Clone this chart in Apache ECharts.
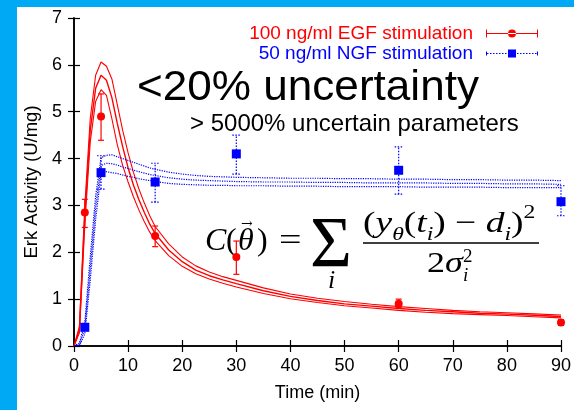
<!DOCTYPE html>
<html><head><meta charset="utf-8">
<script src="https://cdn.jsdelivr.net/npm/echarts@6/dist/echarts.min.js"></script>
<style>html,body{margin:0;padding:0;background:#fff}#c{width:574px;height:410px}</style>
</head><body><div id="c"></div>
<script>
// model time grid (min)
const tModel = [0,1,2,3,4,5,6,7,8,9,10,11,12,13,14,15,17.5,20,22.5,25,27.5,30,35,40,45,50,55,60,65,70,75,80,85,90];
// EGF model fit: central curve and uncertainty band
const egfMid = [0,0.35,2.8,4.6,5.5,5.78,5.67,5.3,4.75,4.25,3.8,3.43,3.12,2.85,2.6,2.4,2.05,1.8,1.62,1.5,1.41,1.33,1.18,1.06,0.97,0.9,0.85,0.8,0.76,0.73,0.7,0.68,0.655,0.63];
const egfUp  = [0,0.42,3.0,4.85,5.78,6.06,5.97,5.7,5.15,4.6,4.12,3.7,3.35,3.05,2.78,2.55,2.18,1.9,1.71,1.58,1.48,1.4,1.24,1.11,1.02,0.95,0.89,0.84,0.8,0.76,0.73,0.71,0.685,0.66];
const egfLo  = [0,0.28,2.6,4.35,5.22,5.47,5.35,4.85,4.3,3.85,3.5,3.18,2.9,2.65,2.43,2.25,1.93,1.7,1.54,1.43,1.34,1.26,1.12,1.01,0.93,0.86,0.81,0.76,0.72,0.69,0.67,0.65,0.625,0.6];
// NGF model fit: central curve and uncertainty band
const ngfMid = [0,0.03,0.38,1.65,2.95,3.85,3.9,3.89,3.86,3.82,3.79,3.75,3.72,3.69,3.66,3.64,3.59,3.56,3.54,3.53,3.52,3.51,3.5,3.5,3.49,3.49,3.48,3.48,3.48,3.47,3.47,3.46,3.46,3.45];
const ngfUp  = [0,0.06,0.5,1.9,3.2,4.02,4.07,4.08,4.04,4.0,3.96,3.92,3.88,3.84,3.8,3.77,3.71,3.67,3.64,3.62,3.61,3.6,3.59,3.58,3.58,3.57,3.57,3.56,3.56,3.55,3.55,3.54,3.54,3.53];
const ngfLo  = [0,0.0,0.26,1.4,2.7,3.68,3.72,3.7,3.68,3.65,3.62,3.6,3.57,3.55,3.53,3.51,3.47,3.45,3.44,3.43,3.43,3.42,3.42,3.41,3.41,3.4,3.4,3.4,3.39,3.39,3.39,3.38,3.38,3.38];
// measurements
const tData   = [2,5,15,30,60,90];
const egfVal  = [2.85,4.9,2.35,1.9,0.9,0.5];
const egfLow  = [2.53,4.39,2.12,1.53,0.82,0.44];
const egfHigh = [3.13,5.38,2.56,2.24,1.0,0.56];
const ngfVal  = [0.4,3.7,3.5,4.1,3.75,3.08];
const ngfLow  = [0.32,3.35,3.07,3.67,3.24,2.78];
const ngfHigh = [0.48,4.06,3.9,4.5,4.25,3.42];
const xTicks = {min:0, max:90, interval:10};
const yTicks = {min:0, max:7, interval:1};

const RED = '#ff0000', BLUE = '#0000ff';
const FONT = 'Liberation Sans';
const pair = (xs, ys) => xs.map((x, i) => [x, ys[i]]);
const triple = (xs, a, b) => xs.map((x, i) => [x, a[i], b[i]]);

function errRender(color, dashed, w) {
  return function (params, api) {
    const x = api.value(0);
    const p1 = api.coord([x, api.value(1)]);
    const p2 = api.coord([x, api.value(2)]);
    const style = {stroke: color, lineWidth: 1.2, lineDash: dashed ? [1.5, 1.5] : null, fill: null};
    return {type: 'group', children: [
      {type: 'line', shape: {x1: p1[0], y1: p1[1], x2: p2[0], y2: p2[1]}, style},
      {type: 'line', shape: {x1: p1[0]-w, y1: p1[1], x2: p1[0]+w, y2: p1[1]}, style},
      {type: 'line', shape: {x1: p2[0]-w, y1: p2[1], x2: p2[0]+w, y2: p2[1]}, style}
    ]};
  };
}
function modelLine(name, data, color, dotted, w) {
  return {type: 'line', name, data, symbol: 'none', silent: true, z: 2,
    lineStyle: {color, width: w, type: dotted ? 'dotted' : 'solid'}};
}

const egfIcon = 'path://M0,1h1v8h-1z M1,4.5h50v1h-50z M51,1h1v8h-1z M22,5a4,4 0 1,0 8,0a4,4 0 1,0 -8,0z';
let dots = '';
for (let x = 1; x < 51; x += 3) { if (x < 21 || x > 30) dots += 'M' + x + ',4.5h1.5v1h-1.5z '; }
const ngfIcon = 'path://M0,3h1v4h-1z ' + dots + 'M22,1h8v8h-8z M51,3h1v4h-1z';

const axisCommon = {
  axisLine: {show: true, lineStyle: {color: '#000', width: 1.6}},
  axisTick: {show: true, inside: true, length: 6, lineStyle: {color: '#000', width: 1.2}},
  splitLine: {show: false}
};

const serif = 'Liberation Serif';
const option = {
  animation: false,
  backgroundColor: '#fff',
  grid: {left: 74, right: 13, top: 18, bottom: 64},
  xAxis: [
    Object.assign({type: 'value', position: 'bottom', ...xTicks, name: 'Time (min)', nameLocation: 'middle', nameGap: 38,
      nameTextStyle: {fontFamily: FONT, fontSize: 18, color: '#000'},
      axisLabel: {fontFamily: FONT, fontSize: 18, color: '#000', margin: 11}}, axisCommon),
    Object.assign({type: 'value', position: 'top', ...xTicks, axisLabel: {show: false}}, axisCommon)
  ],
  yAxis: [
    Object.assign({type: 'value', position: 'left', ...yTicks, name: 'Erk Activity (U/mg)', nameLocation: 'middle', nameGap: 30,
      nameTextStyle: {fontFamily: FONT, fontSize: 18.5, color: '#000'},
      axisLabel: {fontFamily: FONT, fontSize: 18, color: '#000', margin: 12}}, axisCommon),
    Object.assign({type: 'value', position: 'right', ...yTicks, axisLabel: {show: false}}, axisCommon)
  ],
  legend: {
    orient: 'vertical', right: 36, top: 24, align: 'right', padding: 0, itemWidth: 52, itemHeight: 9, itemGap: 1,
    textStyle: {fontFamily: FONT, fontSize: 19, padding: [0, 8, 0, 0]},
    selectedMode: false,
    data: [
      {name: '100 ng/ml EGF stimulation', icon: egfIcon, textStyle: {color: RED}},
      {name: '50 ng/ml NGF stimulation', icon: ngfIcon, textStyle: {color: BLUE}}
    ]
  },
  graphic: [
    {type: 'rect', left: 0, top: 0, z: 100, shape: {width: 574, height: 7}, style: {fill: '#00a9f4'}},
    {type: 'rect', left: 0, top: 0, z: 100, shape: {width: 17, height: 410}, style: {fill: '#00a9f4'}},
    {type: 'text', x: 137, y: 88, z: 1, scaleX: 1.05, style: {text: '<20% uncertainty', font: '42px "Liberation Sans"', fill: '#000', verticalAlign: 'middle'}},
    {type: 'text', x: 190, y: 124, z: 1, style: {text: '> 5000% uncertain parameters', font: '24px "Liberation Sans"', fill: '#000', verticalAlign: 'middle'}},
    // formula
    {type: 'text', x: 205, y: 242, z: 1, style: {text: 'C', font: 'italic 32px "Liberation Serif"', fill: '#000', verticalAlign: 'middle'}},
    {type: 'text', x: 226, y: 242, z: 1, style: {text: '(', font: '32px "Liberation Serif"', fill: '#000', verticalAlign: 'middle'}},
    {type: 'text', x: 238, y: 242, z: 1, style: {text: 'θ', font: 'italic 32px "Liberation Serif"', fill: '#000', verticalAlign: 'middle'}},
    {type: 'text', x: 241, y: 224, z: 1, style: {text: '→', font: '14px "DejaVu Serif"', fill: '#000', verticalAlign: 'middle'}},
    {type: 'text', x: 257, y: 242, z: 1, style: {text: ')', font: '32px "Liberation Serif"', fill: '#000', verticalAlign: 'middle'}},
    {type: 'text', x: 279, y: 242, z: 1, scaleX: 1.25, style: {text: '=', font: '32px "Liberation Serif"', fill: '#000', verticalAlign: 'middle'}},
    {type: 'text', x: 310, y: 247, z: 1, style: {text: 'Σ', font: '72px "Liberation Serif"', fill: '#000', verticalAlign: 'middle'}},
    {type: 'text', x: 328, y: 281, z: 1, style: {text: 'i', font: 'italic 26px "Liberation Serif"', fill: '#000', verticalAlign: 'middle'}},
    {type: 'text', x: 363, y: 224, z: 1, scaleX: 1.25, style: {
      text: '{a|(}{i|y}{s|θ}{a|(}{i|t}{s|i}{a|) − }{i|d}{s|i}{a|)}{u|2}',
      verticalAlign: 'middle',
      rich: {
        a: {fontFamily: serif, fontSize: 30, lineHeight: 40, fill: '#000'},
        i: {fontFamily: serif, fontStyle: 'italic', fontSize: 30, lineHeight: 40, fill: '#000'},
        s: {fontFamily: serif, fontStyle: 'italic', fontSize: 19, lineHeight: 22, verticalAlign: 'bottom', fill: '#000'},
        u: {fontFamily: serif, fontSize: 19, lineHeight: 22, verticalAlign: 'top', fill: '#000'}
      }}},
    {type: 'line', z: 1, shape: {x1: 363, y1: 243, x2: 539, y2: 243}, style: {stroke: '#000', lineWidth: 1.3}},
    {type: 'text', x: 427, y: 264, z: 1, scaleX: 1.2, style: {text: '{a|2}{i|σ}', verticalAlign: 'middle',
      rich: {a: {fontFamily: serif, fontSize: 30, fill: '#000'}, i: {fontFamily: serif, fontStyle: 'italic', fontSize: 30, fill: '#000'}}}},
    {type: 'text', x: 463, y: 257, z: 1, style: {text: '2', font: '19px "Liberation Serif"', fill: '#000', verticalAlign: 'middle'}},
    {type: 'text', x: 463, y: 276, z: 1, style: {text: 'i', font: 'italic 19px "Liberation Serif"', fill: '#000', verticalAlign: 'middle'}}
  ],
  series: [
    modelLine('egfUp', pair(tModel, egfUp), RED, false, 1.1),
    modelLine('egfMid', pair(tModel, egfMid), RED, false, 1.4),
    modelLine('egfLo', pair(tModel, egfLo), RED, false, 1.1),
    modelLine('ngfUp', pair(tModel, ngfUp), BLUE, true, 1.2),
    modelLine('ngfMid', pair(tModel, ngfMid), BLUE, true, 1.2),
    modelLine('ngfLo', pair(tModel, ngfLo), BLUE, true, 1.2),
    {type: 'custom', name: 'egfErr', renderItem: errRender(RED, false, 3), data: triple(tData, egfLow, egfHigh), z: 3, silent: true},
    {type: 'custom', name: 'ngfErr', renderItem: errRender(BLUE, true, 4), data: triple(tData, ngfLow, ngfHigh), z: 3, silent: true},
    {type: 'scatter', name: '100 ng/ml EGF stimulation', data: pair(tData, egfVal), symbol: 'circle', symbolSize: 8, itemStyle: {color: RED, opacity: 1}, z: 4},
    {type: 'scatter', name: '50 ng/ml NGF stimulation', data: pair(tData, ngfVal), symbol: 'rect', symbolSize: 9, itemStyle: {color: BLUE, opacity: 1}, z: 4}
  ]
};
echarts.init(document.getElementById('c'), null, {renderer: 'canvas'}).setOption(option);
</script></body></html>
